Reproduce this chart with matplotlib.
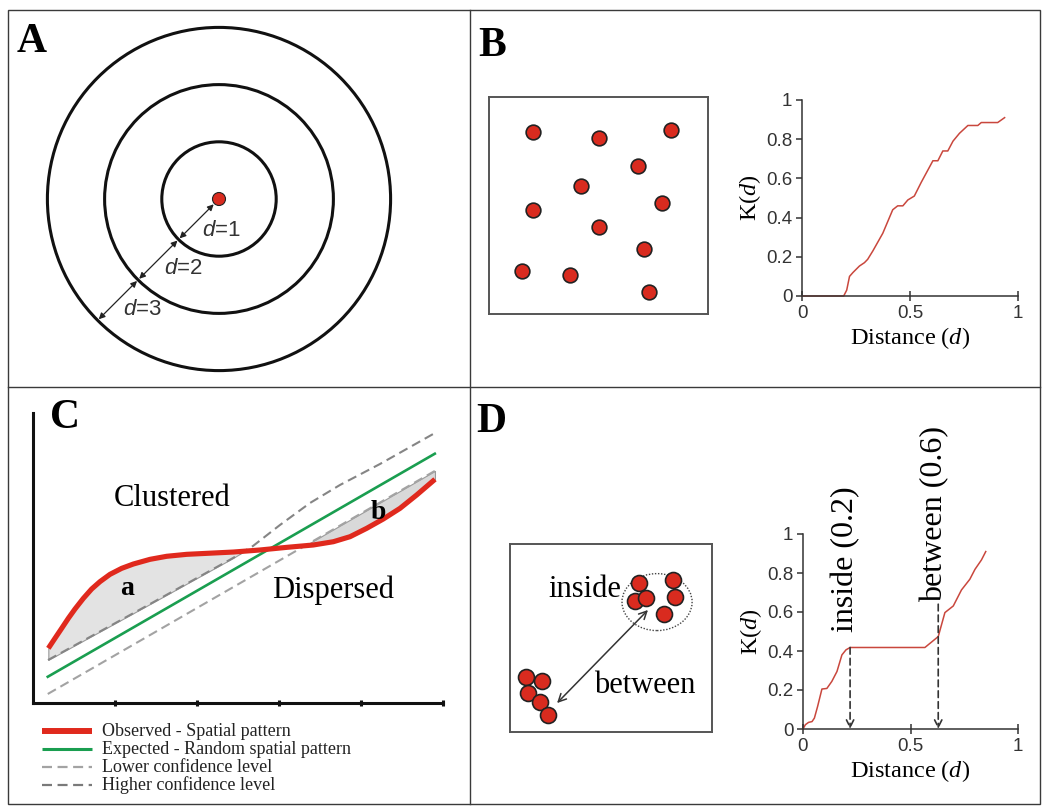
import numpy as np
import matplotlib
matplotlib.use('Agg')
import matplotlib.pyplot as plt
from matplotlib.patches import Circle, Ellipse, Rectangle

plt.rcParams['font.family'] = ['Liberation Serif', 'DejaVu Serif']
plt.rcParams['mathtext.fontset'] = 'custom'
plt.rcParams['mathtext.it'] = 'Liberation Serif:italic'
plt.rcParams['mathtext.rm'] = 'Liberation Serif'
plt.rcParams['mathtext.sf'] = 'Liberation Sans:italic'

# ---------------- data ----------------
# Panel A: rings at distances d
ring_d = [1, 2, 3]

# Panel B: random point pattern (unit square) and its K(d)
b_pts_x = [0.20, 0.50, 0.83, 0.68, 0.42, 0.20, 0.79, 0.50, 0.71, 0.15, 0.37, 0.73]
b_pts_y = [0.84, 0.81, 0.85, 0.68, 0.59, 0.48, 0.51, 0.40, 0.30, 0.20, 0.18, 0.10]
b_dist = [0, 0.193, 0.207, 0.22, 0.236, 0.266, 0.289, 0.304, 0.328, 0.374, 0.42, 0.443,
          0.467, 0.49, 0.52, 0.552, 0.606, 0.629, 0.652, 0.675, 0.699, 0.729, 0.768,
          0.814, 0.83, 0.906, 0.938]
b_k = [0, 0, 0.03, 0.10, 0.12, 0.153, 0.17, 0.187, 0.23, 0.32, 0.44, 0.46,
       0.46, 0.49, 0.51, 0.58, 0.69, 0.69, 0.74, 0.74, 0.79, 0.83, 0.87,
       0.87, 0.885, 0.885, 0.91]

# Panel C: schematic K-function vs envelope
c_ticks = [1, 2, 3, 4, 5]
c_exp_x = [0.18, 4.90]
c_exp_y = [0.32, 3.04]
c_lo_x = [0.18, 4.90]
c_lo_y = [0.11, 2.83]
c_hi_x = [0.183, 1.427, 2.439, 2.683, 3.012, 3.378, 3.744, 4.232, 4.902]
c_hi_y = [0.524, 1.207, 1.768, 1.915, 2.171, 2.439, 2.659, 2.915, 3.293]
c_obs_x = [0.187, 0.268, 0.350, 0.431, 0.512, 0.614, 0.715, 0.817, 0.939, 1.081,
           1.224, 1.427, 1.630, 1.874, 2.118, 2.443, 2.768, 3.093, 3.419, 3.663,
           3.866, 4.069, 4.272, 4.476, 4.679, 4.902]
c_obs_y = [0.667, 0.789, 0.911, 1.033, 1.146, 1.276, 1.390, 1.480, 1.569, 1.642,
           1.695, 1.752, 1.789, 1.813, 1.825, 1.841, 1.866, 1.898, 1.927, 1.967,
           2.028, 2.130, 2.244, 2.374, 2.537, 2.728]
c_labels = ["Observed - Spatial pattern", "Expected - Random spatial pattern",
            "Lower confidence level", "Higher confidence level"]

# Panel D: clustered pattern (unit square) and its K(d)
d_in_x = [0.639, 0.807, 0.619, 0.673, 0.817, 0.762]
d_in_y = [0.793, 0.809, 0.697, 0.713, 0.718, 0.628]
d_bt_x = [0.079, 0.158, 0.089, 0.149, 0.188]
d_bt_y = [0.293, 0.271, 0.207, 0.160, 0.090]
d_dist = [0, 0.011, 0.026, 0.042, 0.053, 0.068, 0.088, 0.111, 0.134, 0.158, 0.181,
          0.2, 0.219, 0.567, 0.629, 0.66, 0.699, 0.737, 0.776, 0.8, 0.83, 0.85]
d_k = [0, 0.022, 0.034, 0.038, 0.056, 0.116, 0.205, 0.208, 0.244, 0.295, 0.38,
       0.406, 0.418, 0.418, 0.474, 0.597, 0.631, 0.713, 0.768, 0.819, 0.867, 0.91]
d_marks = [0.219, 0.629]
d_mark_labels = ["inside (0.2)", "between (0.6)"]

kx_ticks = [0, 0.5, 1]
kx_labels = ["0", "0.5", "1"]
ky_ticks = [0, 0.2, 0.4, 0.6, 0.8, 1]
ky_labels = ["0", "0.2", "0.4", "0.6", "0.8", "1"]

# ---------------- figure ----------------
W, H = 1043, 806
fig = plt.figure(figsize=(W / 100, H / 100), dpi=100)
bg = fig.add_axes([0, 0, 1, 1])
bg.set_xlim(0, W)
bg.set_ylim(H, 0)
bg.axis('off')


def px_axes(x0, y0, x1, y1):
    return fig.add_axes([x0 / W, 1 - y1 / H, (x1 - x0) / W, (y1 - y0) / H])


FRAME = '#3a3a3a'
DOT = '#d92b1f'
KLINE = '#c9473d'
SANS = ['Liberation Sans', 'DejaVu Sans']

# frame and dividers
bg.add_patch(Rectangle((8, 10), 1032, 794, fill=False, ec=FRAME, lw=1.0))
bg.plot([469.5, 469.5], [10, 804], color=FRAME, lw=1.0)
bg.plot([8, 1040], [387, 387], color=FRAME, lw=1.0)

# panel letters
for lab, x, y in [('A', 17, 52), ('B', 478, 56), ('C', 50, 428), ('D', 476, 432)]:
    bg.text(x, y, lab, fontsize=30, fontweight='bold', ha='left', va='baseline')

# ---------------- Panel A ----------------
cx, cy, unit = 219, 199, 57.2
for d in ring_d:
    bg.add_patch(Circle((cx, cy), d * unit, fill=False, ec='#111111', lw=2.2))
bg.add_patch(Circle((cx, cy), 6.5, fc=DOT, ec='#222222', lw=0.8, zorder=5))
ux, uy = -np.sqrt(0.5), np.sqrt(0.5)
prev = 7.5
for d in ring_d:
    r1 = d * unit - 1.5
    bg.annotate('', xy=(cx + ux * r1, cy + uy * r1), xytext=(cx + ux * prev, cy + uy * prev),
                arrowprops=dict(arrowstyle='<|-|>', color='#222222', lw=0.9,
                                mutation_scale=9, shrinkA=0, shrinkB=0))
    rm = (prev + r1) / 2
    bg.text(cx + ux * rm + 25, cy + uy * rm + 9, r'$\mathsf{d}$=%d' % d, family=SANS,
            fontsize=16, color='#333333', ha='center', va='center')
    prev = d * unit + 1.5

# ---------------- K(d) axes helper ----------------
def kaxes(ax, xs, ys):
    ax.plot(xs, ys, color=KLINE, lw=1.1, clip_on=False)
    ax.set_xlim(0, 1)
    ax.set_ylim(0, 1)
    for s in ['top', 'right']:
        ax.spines[s].set_visible(False)
    for s in ['left', 'bottom']:
        ax.spines[s].set_color('#333333')
        ax.spines[s].set_linewidth(1.1)
    ax.set_xticks(kx_ticks)
    ax.set_xticklabels(kx_labels)
    ax.set_yticks(ky_ticks)
    ax.set_yticklabels(ky_labels)
    ax.tick_params(axis='x', direction='inout', length=7, width=1.1, color='#333333', pad=3)
    ax.tick_params(axis='y', direction='out', length=4, width=1.1, color='#333333', pad=3)
    for t in ax.get_xticklabels() + ax.get_yticklabels():
        t.set_family(SANS)
        t.set_fontsize(13.5)
        t.set_color('#333333')
    ax.set_xlabel('Distance ($d$)', fontsize=17.5)
    ax.set_ylabel('K($d$)', fontsize=17.5)
    ax.xaxis.set_label_coords(0.5, -0.15)
    ax.yaxis.set_label_coords(-0.18, 0.5)
    ax.patch.set_alpha(0)


def box(ax):
    ax.set_xlim(0, 1)
    ax.set_ylim(0, 1)
    ax.set_xticks([])
    ax.set_yticks([])
    for s in ax.spines.values():
        s.set_color('#555555')
        s.set_linewidth(1.4)
    ax.patch.set_alpha(0)

# ---------------- Panel B ----------------
axbp = px_axes(489, 97, 708, 314)
box(axbp)
axbp.scatter(b_pts_x, b_pts_y, s=112, c=DOT, edgecolors='#222222', linewidths=1.2, zorder=3)

axbk = px_axes(802, 100, 1018, 296)
kaxes(axbk, b_dist, b_k)

# ---------------- Panel C ----------------
axc = px_axes(33, 413, 443, 703)
axc.set_xlim(0, 5)
axc.set_ylim(0, 290 / 82)
for s in ['top', 'right']:
    axc.spines[s].set_visible(False)
for s in ['left', 'bottom']:
    axc.spines[s].set_color('#111111')
    axc.spines[s].set_linewidth(2.2)
axc.set_xticks(c_ticks)
axc.set_xticklabels([])
axc.set_yticks([])
axc.tick_params(axis='x', direction='inout', length=5, width=2.2, color='#111111')
axc.patch.set_alpha(0)

xs = np.linspace(c_obs_x[0], c_obs_x[-1], 600)
r = np.interp(xs, c_obs_x, c_obs_y)
hi = np.interp(xs, c_hi_x, c_hi_y)
lo = np.interp(xs, c_lo_x, c_lo_y)
axc.fill_between(xs, hi, r, where=r > hi, interpolate=True, fc='#e3e3e3', ec='#9a9a9a', lw=0.8)
axc.fill_between(xs, r, lo, where=r < lo, interpolate=True, fc='#d9d9d9', ec='#9a9a9a', lw=0.8)

ln_lo, = axc.plot(c_lo_x, c_lo_y, color='#a3a3a3', lw=1.5, ls=(0, (4.5, 2.5)))
ln_hi, = axc.plot(c_hi_x, c_hi_y, color='#858585', lw=1.5, ls=(0, (4.5, 2.5)))
ln_exp, = axc.plot(c_exp_x, c_exp_y, color='#1a9e50', lw=1.9)
ln_obs, = axc.plot(c_obs_x, c_obs_y, color='#e0291d', lw=3.7, solid_capstyle='butt',
                   solid_joinstyle='round')

axc.text(1.695, 2.50, 'Clustered', fontsize=22, ha='center', va='center')
axc.text(3.66, 1.38, 'Dispersed', fontsize=22, ha='center', va='center')
axc.text(1.146, 1.40, 'a', fontsize=20, fontweight='bold', ha='center', va='center')
axc.text(4.207, 2.32, 'b', fontsize=20, fontweight='bold', ha='center', va='center')

# legend (C)
leg_styles = [dict(color='#e0291d', lw=4.3, solid_capstyle='butt'),
              dict(color='#1a9e50', lw=2.2, solid_capstyle='butt'),
              dict(color='#a3a3a3', lw=1.6, ls=(0, (4.5, 2.5))),
              dict(color='#7a7a7a', lw=1.6, ls=(0, (4.5, 2.5)))]
for i, (lab, st) in enumerate(zip(c_labels, leg_styles)):
    yy = 731 + i * 18
    bg.plot([42, 92], [yy, yy], **st)
    bg.text(102, yy, lab, fontsize=13, ha='left', va='center', color='#222222')

# ---------------- Panel D ----------------
axdp = px_axes(510, 544, 712, 732)
box(axdp)
axdp.add_patch(Ellipse((0.728, 0.691), 0.347, 0.303, fill=False, ec='#444444', lw=1.0,
                       ls=(0, (1, 1.2))))
axdp.scatter(d_in_x, d_in_y, s=132, c=DOT, edgecolors='#222222', linewidths=1.2, zorder=3)
axdp.scatter(d_bt_x, d_bt_y, s=132, c=DOT, edgecolors='#222222', linewidths=1.2, zorder=3)
axdp.annotate('', xy=(0.233, 0.154), xytext=(0.683, 0.649),
              arrowprops=dict(arrowstyle='<->', color='#333333', lw=1.1,
                              mutation_scale=14, shrinkA=0, shrinkB=0))
axdp.text(0.55, 0.718, 'inside', fontsize=22, ha='right', va='baseline')
axdp.text(0.416, 0.207, 'between', fontsize=22, ha='left', va='baseline')

axdk = px_axes(803, 534, 1018, 729)
kaxes(axdk, d_dist, d_k)
starts = [np.interp(d_marks[0], d_dist, d_k), 0.64]
text_x = [0.20, 0.614]
text_y = [0.50, 0.65]
for m, st, lab, tx, ty in zip(d_marks, starts, d_mark_labels, text_x, text_y):
    axdk.annotate('', xy=(m, 0.0), xytext=(m, st),
                  arrowprops=dict(arrowstyle='->', color='#333333', lw=1.2, ls=(0, (4, 2.5)),
                                  mutation_scale=13, shrinkA=0, shrinkB=0))
    axdk.text(tx, ty, lab, rotation=90, fontsize=23, ha='center', va='bottom', clip_on=False)

fig.savefig('out.png', dpi=100)
